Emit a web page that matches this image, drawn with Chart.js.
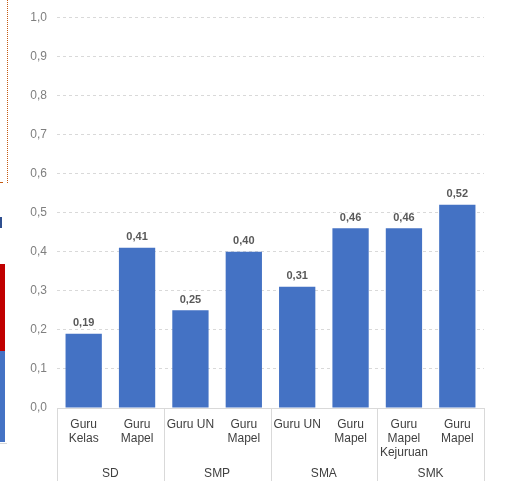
<!DOCTYPE html>
<html>
<head>
<meta charset="utf-8">
<script src="https://cdn.jsdelivr.net/npm/chart.js@4.4.0/dist/chart.umd.min.js"></script>
<style>
  html, body { margin: 0; padding: 0; background: #fff; }
  #wrap { position: relative; width: 506px; height: 481px; }
  .edge { position: absolute; }
</style>
</head>
<body>
<div id="wrap">
  <canvas id="myChart" width="506" height="481"></canvas>
  <!-- bits of the neighbouring figure cut off on the left -->
  <div class="edge" style="left:7px;top:0;height:183px;border-left:1px dotted #c55a11"></div>
  <div class="edge" style="left:0;top:182px;width:3px;height:1px;background:#c55a11"></div>
  <div class="edge" style="left:0;top:217px;width:2px;height:11px;background:#2f4f8f"></div>
  <div class="edge" style="left:0;top:264px;width:5px;height:87px;background:#c00000"></div>
  <div class="edge" style="left:0;top:351px;width:5px;height:91px;background:#4472c4"></div>
  <div class="edge" style="left:0;top:443px;width:7px;height:1px;background:#d9d9d9"></div>
</div>
<script>
let labels = [['Guru', 'Kelas'], ['Guru', 'Mapel'], ['Guru UN'], ['Guru', 'Mapel'],
  ['Guru UN'], ['Guru', 'Mapel'], ['Guru', 'Mapel', 'Kejuruan'], ['Guru', 'Mapel']];
let groups = ['SD', 'SMP', 'SMA', 'SMK'];
let values = [0.19, 0.41, 0.25, 0.40, 0.31, 0.46, 0.46, 0.52];

let fontFamily = "'Liberation Sans', Arial, Helvetica, sans-serif";
let fmt = (v, d) => v.toFixed(d).replace('.', ',');

// value labels above the bars
let barLabels = {
  id: 'barLabels',
  afterDatasetsDraw(chart) {
    let c = chart.ctx;
    c.save();
    c.font = 'bold 11px ' + fontFamily;
    c.fillStyle = '#595959';
    c.textAlign = 'center';
    c.textBaseline = 'bottom';
    chart.getDatasetMeta(0).data.forEach((bar, i) => {
      c.fillText(fmt(values[i], 2), bar.x, bar.y - 5);
    });
    c.restore();
  }
};

// vertical separators between the groups of the category axis
let groupLines = {
  id: 'groupLines',
  afterDraw(chart) {
    let x = chart.scales.x;
    let c = chart.ctx;
    let xs = [x.left];
    for (let i = 1; i < labels.length - 1; i += 2) {
      xs.push((x.getPixelForValue(i) + x.getPixelForValue(i + 1)) / 2);
    }
    xs.push(x.right);
    c.save();
    c.strokeStyle = '#d9d9d9';
    c.lineWidth = 1;
    xs.forEach(px => {
      let p = Math.round(px) + 0.5;
      c.beginPath();
      c.moveTo(p, x.top);
      c.lineTo(p, chart.height);
      c.stroke();
    });
    c.restore();
  }
};

let ctx = document.getElementById('myChart').getContext('2d');
let myChart = new Chart(ctx, {
  type: 'bar',
  data: {
    labels: labels,
    datasets: [{
      data: values,
      backgroundColor: '#4472c4',
      categoryPercentage: 1,
      barPercentage: 0.68
    }]
  },
  options: {
    responsive: false,
    animation: false,
    layout: { padding: { top: 13, right: 22, left: 0, bottom: 0 } },
    plugins: {
      legend: { display: false },
      tooltip: { enabled: false }
    },
    scales: {
      y: {
        min: 0,
        max: 1,
        ticks: {
          stepSize: 0.1,
          padding: 10,
          color: '#7f7f7f',
          font: { family: fontFamily, size: 12 },
          callback: v => fmt(v, 1)
        },
        grid: {
          drawTicks: false,
          color: ctx => ctx.tick && ctx.tick.value === 0 ? 'rgba(0,0,0,0)' : '#d9d9d9'
        },
        border: { display: false, dash: [3, 3] },
        afterFit: s => { s.width = 57; }
      },
      x: {
        grid: { display: false, drawTicks: false },
        border: { color: '#d9d9d9' },
        ticks: {
          autoSkip: false,
          maxRotation: 0,
          padding: 9,
          color: '#404040',
          font: { family: fontFamily, size: 12 }
        },
        afterFit: s => { s.height = 55; }
      },
      x2: {
        type: 'category',
        position: 'bottom',
        labels: groups,
        offset: true,
        grid: { display: false, drawTicks: false },
        border: { display: false },
        ticks: {
          padding: 3,
          color: '#404040',
          font: { family: fontFamily, size: 12 }
        },
        afterFit: s => { s.height = 18; }
      }
    }
  },
  plugins: [barLabels, groupLines]
});
</script>
</body>
</html>
